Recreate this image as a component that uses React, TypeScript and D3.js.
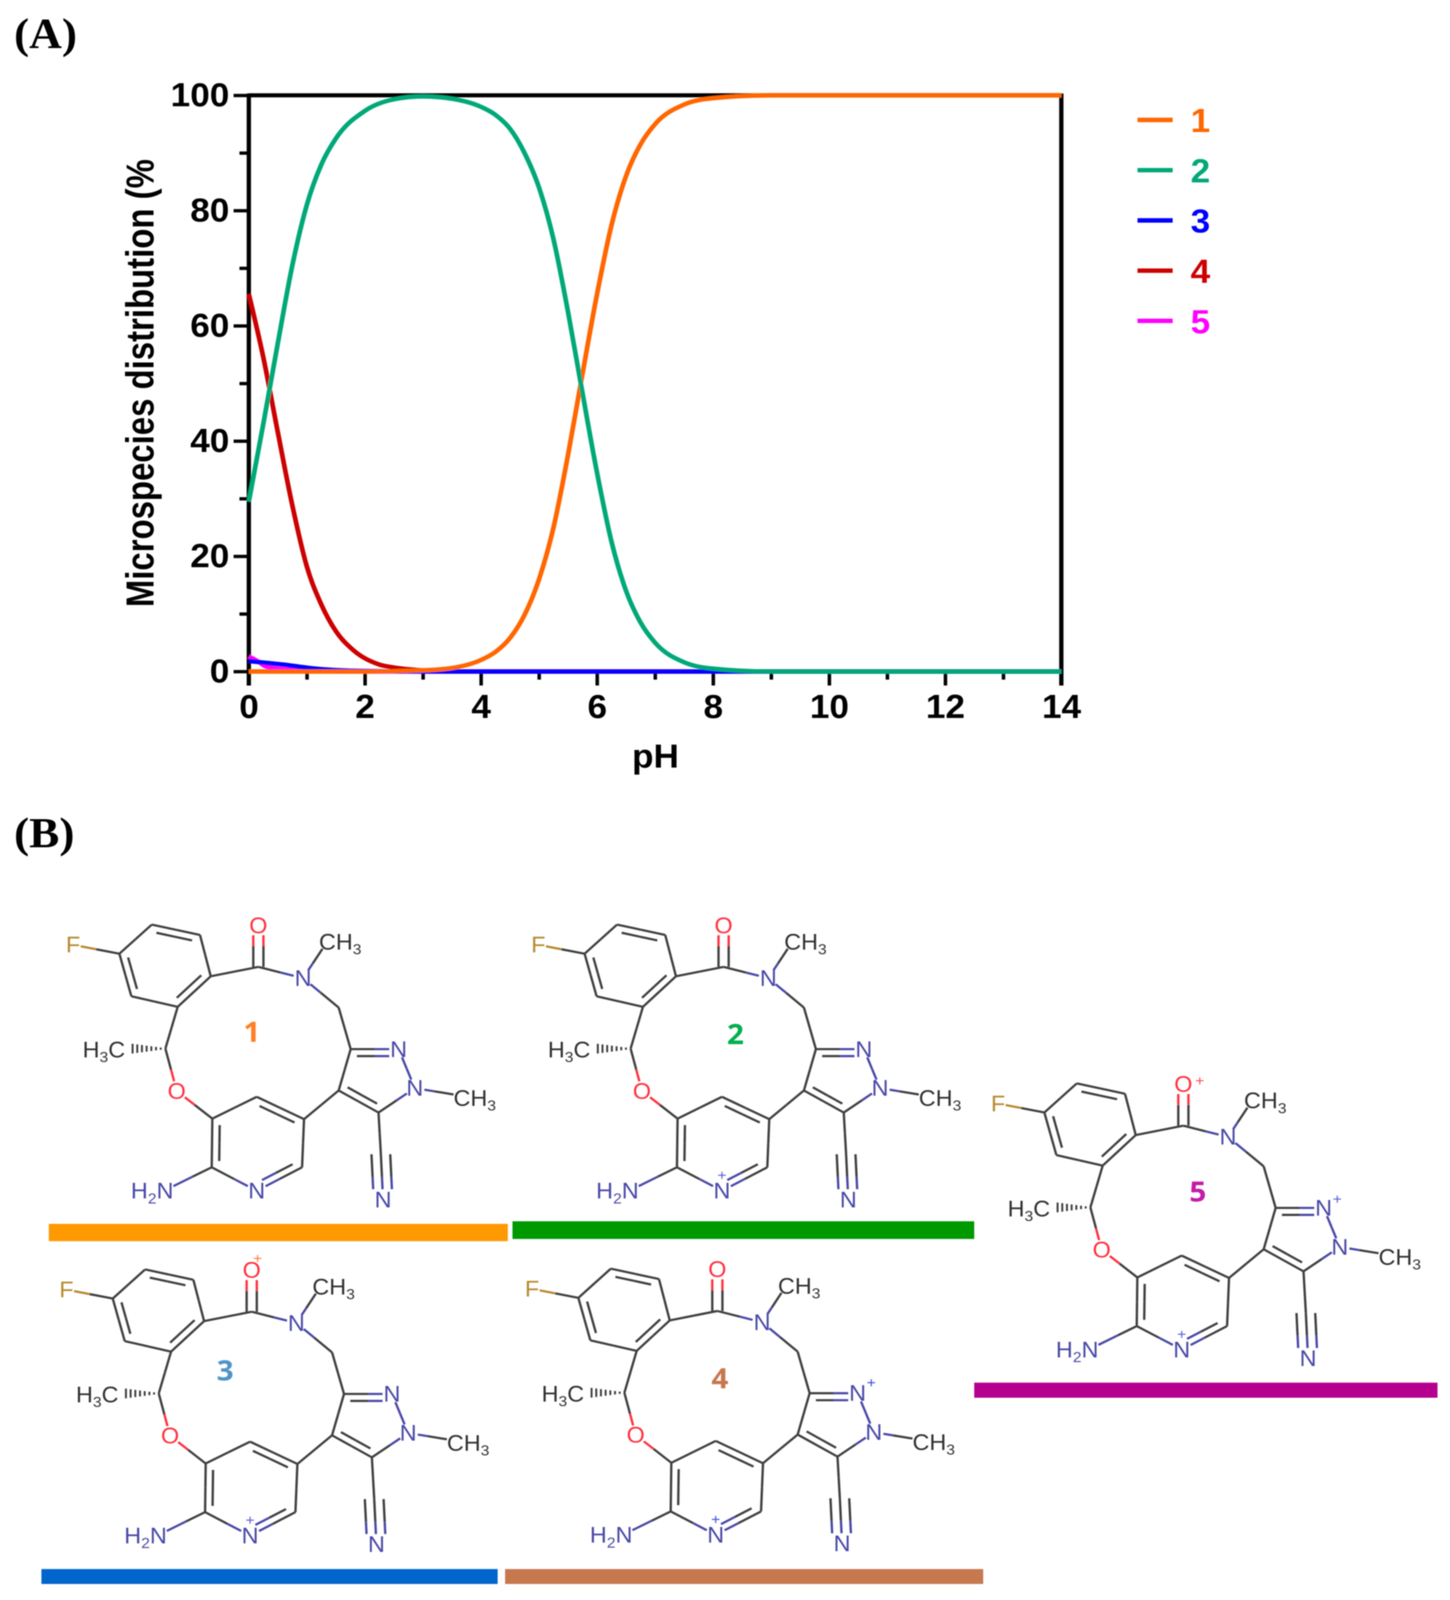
import React, { useEffect, useRef } from 'react';
import * as d3 from 'd3';

// species curves
const pH1 = [0, 1, 2, 3, 3.5, 4, 4.25, 4.5, 4.75, 5, 5.25, 5.5, 5.72, 6, 6.25, 6.5, 6.75, 7, 7.5, 8, 9, 14];
const species1 = [0, 0, 0, 0.2, 0.6, 2, 3.4, 5.8, 9.8, 16, 25, 37.6, 50, 65.5, 77.5, 86, 91.5, 95, 98.4, 99.5, 100, 100];
const pH2 = [0, 0.25, 0.5, 0.75, 1, 1.25, 1.5, 2, 2.5, 3, 3.5, 4, 4.25, 4.5, 4.75, 5, 5.25, 5.5, 5.72, 6, 6.25, 6.5, 6.75, 7, 7.5, 8, 9, 14];
const species2 = [29.5, 43, 57, 70.5, 81, 88, 92.5, 97.3, 99.3, 99.8, 99.4, 98, 96.6, 94.2, 90, 84, 75, 62.4, 50, 34.5, 22.5, 14, 8.5, 5, 1.6, 0.5, 0, 0];
const pH3 = [0, 0.3, 0.6, 0.9, 1.2, 1.6, 2, 3, 14];
const species3 = [1.8, 1.5, 1.2, 0.8, 0.45, 0.2, 0.1, 0, 0];
const pH4 = [0, 0.25, 0.5, 0.75, 1, 1.25, 1.5, 1.8, 2.25, 2.5, 3, 3.5, 14];
const species4 = [65.5, 54.5, 41.5, 28.8, 18.2, 11.6, 7, 3.7, 1.2, 0.7, 0.2, 0, 0];
const pH5 = [0, 0.15, 0.3, 0.6, 1, 2, 14];
const species5 = [2.6, 1.8, 0.85, 0.4, 0.15, 0, 0];

const legendNames = ['1', '2', '3', '4', '5'];
const lineColors = ['#ff6600', '#00a878', '#0000ff', '#cc0000', '#ff00ff'];
const drawOrder = [4, 3, 2, 0, 1];
const xMajor = [0, 2, 4, 6, 8, 10, 12, 14];
const xMinor = [1, 3, 5, 7, 9, 11, 13];
const yMajor = [0, 20, 40, 60, 80, 100];
const yMinor = [10, 30, 50, 70, 90];

const x = d3.scaleLinear().domain([0, 14]).range([637, 2717]);
const y = d3.scaleLinear().domain([0, 100]).range([1822.7, 258.7]);

// molecule skeleton, measured on structure 1
type Atom = { x: number; y: number; el?: string; gap?: number };
const atoms: Record<string, Atom> = {
  a1: { x: 205.6, y: 188.8 }, a2: { x: 288.6, y: 109.7 }, a3: { x: 412, y: 137.8 },
  a4: { x: 439.5, y: 250 }, a5: { x: 354.9, y: 332.9 }, a6: { x: 236.3, y: 304.2 },
  F: { x: 87, y: 164.5, el: 'F', gap: 20 },
  c7: { x: 561.4, y: 224.5 }, O1: { x: 561.4, y: 111.6, el: 'O', gap: 27 },
  N8: { x: 675.8, y: 255.1, el: 'N', gap: 25 }, me1: { x: 725.5, y: 175.4 },
  c9: { x: 767, y: 334.8 }, c10: { x: 797.7, y: 447.7 },
  N11: { x: 920.4, y: 447.7, el: 'N', gap: 24 }, N12: { x: 961.9, y: 553.6, el: 'N', gap: 25 },
  c13: { x: 869, y: 619.9 }, c14: { x: 767, y: 560 }, me2: { x: 1061, y: 570.8 },
  c15: { x: 875, y: 733 }, N16: { x: 880.6, y: 855.9, el: 'N', gap: 28 },
  p1: { x: 678.3, y: 637.8 }, p2: { x: 557.2, y: 577.2 }, p3: { x: 443.6, y: 636.5 },
  p4: { x: 442, y: 768.5 }, N17: { x: 557.2, y: 832.3, el: 'N', gap: 26 }, p6: { x: 673.3, y: 768.5 },
  O2: { x: 352.4, y: 561.2, el: 'O', gap: 27 }, c18: { x: 323.4, y: 446.4 },
  N19: { x: 344, y: 819.5, el: 'N', gap: 0 },
};
const ringCenters: Record<string, [number, number]> = {
  ph: [322, 220], py: [558, 700], pz: [875, 520], c10: [920, 600],
};
const singleBonds = [
  ['a2', 'a1'], ['a3', 'a4'], ['a5', 'a6'], ['a1', 'F'], ['a4', 'c7'], ['c7', 'N8'], ['N8', 'me1'],
  ['N8', 'c9'], ['c9', 'c10'], ['c10', 'c14'], ['N11', 'N12'], ['N12', 'c13'], ['N12', 'me2'],
  ['c14', 'p1'], ['c13', 'c15'], ['p1', 'p6'], ['p2', 'p3'], ['p4', 'N17'], ['p4', 'N19'],
  ['a5', 'c18'], ['c18', 'O2'], ['O2', 'p3'],
];
const doubleBonds = [
  ['a2', 'a3', 'ph'], ['a1', 'a6', 'ph'], ['a4', 'a5', 'ph'], ['c10', 'N11', 'c10'],
  ['c13', 'c14', 'pz'], ['p1', 'p2', 'py'], ['p3', 'p4', 'py'], ['N17', 'p6', 'py'],
];
const moleculeLabels = [
  { atom: 'F', parts: ['F'], anchor: 'middle', dx: 0, dy: 0 },
  { atom: 'O1', parts: ['O'], anchor: 'middle', dx: 0, dy: 0 },
  { atom: 'N8', parts: ['N'], anchor: 'middle', dx: 0, dy: 0 },
  { atom: 'me1', parts: ['CH', '3'], anchor: 'start', dx: -9, dy: -19 },
  { atom: 'N11', parts: ['N'], anchor: 'middle', dx: 0, dy: 0 },
  { atom: 'N12', parts: ['N'], anchor: 'middle', dx: 0, dy: 0 },
  { atom: 'me2', parts: ['CH', '3'], anchor: 'start', dx: 0, dy: 10 },
  { atom: 'N16', parts: ['N'], anchor: 'middle', dx: 0, dy: 0 },
  { atom: 'N17', parts: ['N'], anchor: 'middle', dx: 0, dy: 0 },
  { atom: 'O2', parts: ['O'], anchor: 'middle', dx: 0, dy: 0 },
  { atom: 'N19', parts: ['H', '2', 'N'], anchor: 'end', dx: 0, dy: 13 },
  { atom: 'c18', parts: ['H', '3', 'C'], anchor: 'end', dx: -103, dy: 3 },
];
const elementColors: Record<string, string> = { N: '#4a4aa8', O: '#ff3040', F: '#b88a30' };
const bondDark = '#404040';

// panel B: one entry per structure
const moleculeIds = ['1', '2', '3', '4', '5'];
const moleculeOffsets: [number, number][] = [[100, 2400], [1291, 2400], [83, 3336], [1275, 3334], [2468, 2831]];
const moleculeNumbers: [number, number][] = [[644.8, 2800.5], [1882.7, 2807], [576.5, 3720.5], [1843, 3741], [3066.5, 3235]];
const numberColors = ['#ff7f27', '#00b050', '#4f94c8', '#c8774d', '#c41aa8'];
const barSpans: [number, number, number, number][] = [
  [125, 1300, 3322, 3369], [1312, 2494, 3315, 3363], [106, 1274, 4259, 4300], [1293, 2517, 4259, 4300], [2494, 3680, 3753, 3794],
];
const barColors = ['#ff9900', '#009900', '#0066cc', '#c87850', '#b5008f'];
const charges: { atom: string; dx: number; dy: number; color: string }[][] = [
  [],
  [{ atom: 'N17', dx: 0, dy: -42, color: '#5a64d8' }],
  [{ atom: 'O1', dx: 15, dy: -32, color: '#ff8040' }, { atom: 'N17', dx: 0, dy: -42, color: '#5a64d8' }],
  [{ atom: 'N11', dx: 35, dy: -28, color: '#3a50e0' }, { atom: 'N17', dx: 0, dy: -42, color: '#3a50e0' }],
  [{ atom: 'O1', dx: 42, dy: -9, color: '#ff5060' }, { atom: 'N11', dx: 35, dy: -24, color: '#5a64d8' }, { atom: 'N17', dx: 0, dy: -42, color: '#5a64d8' }],
];

const lineOf = d3.line<[number, number]>().x((d) => d[0]).y((d) => d[1]);

function trimmed(a: Atom, b: Atom) {
  const len = Math.hypot(b.x - a.x, b.y - a.y);
  const ux = (b.x - a.x) / len;
  const uy = (b.y - a.y) / len;
  const ga = a.gap || 0;
  const gb = b.gap || 0;
  return { ux, uy, len, x1: a.x + ux * ga, y1: a.y + uy * ga, x2: b.x - ux * gb, y2: b.y - uy * gb };
}

// a bond drawn in two halves, each in the colour of its atom
function halves(a: Atom, b: Atom, ox: number, oy: number, inset: number, key: string, width: number) {
  const t = trimmed(a, b);
  const sa = a.gap ? 0 : inset * t.len;
  const sb = b.gap ? 0 : inset * t.len;
  const p1: [number, number] = [t.x1 + t.ux * sa + ox, t.y1 + t.uy * sa + oy];
  const p2: [number, number] = [t.x2 - t.ux * sb + ox, t.y2 - t.uy * sb + oy];
  const m: [number, number] = [(a.x + b.x) / 2 + ox, (a.y + b.y) / 2 + oy];
  const ca = a.el ? elementColors[a.el] : bondDark;
  const cb = b.el ? elementColors[b.el] : bondDark;
  return (
    <g key={key} fill="none" strokeWidth={width}>
      <path d={lineOf([p1, m]) || ''} stroke={ca} />
      <path d={lineOf([m, p2]) || ''} stroke={cb} />
    </g>
  );
}

const Molecule: React.FC<{ index: number }> = ({ index }) => {
  const [ox, oy] = moleculeOffsets[index];
  const px = d3.scaleLinear().domain([0, 1300]).range([ox, ox + 1300]);
  const py = d3.scaleLinear().domain([0, 1000]).range([oy, oy + 1000]);
  const placed: Record<string, Atom> = {};
  Object.keys(atoms).forEach((k) => {
    placed[k] = { ...atoms[k], x: px(atoms[k].x), y: py(atoms[k].y) };
  });
  const width = 6;
  const hashFrom = placed.c18;
  return (
    <g>
      {singleBonds.map(([a, b]) => halves(placed[a], placed[b], 0, 0, 0, a + b, width))}
      {doubleBonds.map(([a, b, c]) => {
        const A = placed[a];
        const B = placed[b];
        const center = ringCenters[c];
        const t = trimmed(A, B);
        let nx = -t.uy;
        let ny = t.ux;
        if (nx * (px(center[0]) - A.x) + ny * (py(center[1]) - A.y) < 0) {
          nx = -nx;
          ny = -ny;
        }
        return (
          <g key={a + b}>
            {halves(A, B, 0, 0, 0, 'o', width)}
            {halves(A, B, nx * 19, ny * 19, 0.13, 'i', width)}
          </g>
        );
      })}
      {[-13, 13].map((d) => halves(placed.c7, placed.O1, d, 0, 0, 'co' + d, width))}
      {[-24, 0, 24].map((d) => halves(placed.c15, placed.N16, d, 0, 0, 'cn' + d, width))}
      {d3.range(7).map((i) => {
        const hx = hashFrom.x - 12 - i * 12;
        const half = 3 + i * 1.7;
        return <line key={i} x1={hx} x2={hx} y1={hashFrom.y - half} y2={hashFrom.y + half} stroke={bondDark} strokeWidth={5} />;
      })}
      <g fontFamily="'Liberation Sans', Arial, sans-serif" fontSize={60}>
        {moleculeLabels.map((l) => {
          const a = placed[l.atom];
          const el = atoms[l.atom].el;
          const isCarbon = l.parts.includes('CH') || l.parts[2] === 'C';
          return (
            <text
              key={l.atom + l.parts.join('')}
              x={a.x + l.dx}
              y={a.y + l.dy + 21}
              textAnchor={l.anchor}
              fill={isCarbon ? '#333333' : elementColors[el || 'N']}
            >
              {l.parts.map((p, i) =>
                /\d/.test(p) ? (
                  <tspan key={i} fontSize={40} dy={13}>{p}</tspan>
                ) : (
                  <tspan key={i} dy={i > 0 ? -13 : 0}>{p}</tspan>
                ),
              )}
            </text>
          );
        })}
      </g>
      {charges[index].map((c) => (
        <text
          key={c.atom}
          x={placed[c.atom].x + c.dx}
          y={placed[c.atom].y + c.dy + 13}
          textAnchor="middle"
          fontFamily="'Liberation Sans', Arial, sans-serif"
          fontSize={40}
          fill={c.color}
        >
          +
        </text>
      ))}
      <text
        x={moleculeNumbers[index][0]}
        y={moleculeNumbers[index][1] + 27}
        textAnchor="middle"
        fontFamily="'Open Sans', sans-serif"
        fontWeight={700}
        fontSize={76}
        fill={numberColors[index]}
      >
        {moleculeIds[index]}
      </text>
    </g>
  );
};

export default function App() {
  const xAxisRef = useRef<SVGGElement | null>(null);
  const yAxisRef = useRef<SVGGElement | null>(null);

  useEffect(() => {
    const gx = d3.select(xAxisRef.current);
    const gy = d3.select(yAxisRef.current);
    gx.selectAll('*').remove();
    gy.selectAll('*').remove();
    const bottom = d3.axisBottom(x).tickValues(xMajor).tickSize(38).tickSizeOuter(0).tickPadding(24).tickFormat(d3.format('d') as any);
    const bottomMinor = d3.axisBottom(x).tickValues(xMinor).tickSize(22).tickSizeOuter(0).tickFormat(() => '');
    const left = d3.axisLeft(y).tickValues(yMajor).tickSize(39).tickSizeOuter(0).tickPadding(11).tickFormat(d3.format('d') as any);
    const leftMinor = d3.axisLeft(y).tickValues(yMinor).tickSize(24).tickSizeOuter(0).tickFormat(() => '');
    gx.append('g').call(bottom as any);
    gx.append('g').call(bottomMinor as any);
    gy.append('g').call(left as any);
    gy.append('g').call(leftMinor as any);
    [gx, gy].forEach((g) => {
      g.selectAll('.domain').remove();
      g.selectAll('line').attr('stroke', '#000').attr('stroke-width', 9);
      g.selectAll('text')
        .attr('fill', '#000')
        .attr('font-family', "'Liberation Sans', Arial, sans-serif")
        .attr('font-weight', 700)
        .attr('font-size', 90);
    });
    gx.selectAll('text').attr('dy', '0.71em');
  }, []);

  const series = [
    { xs: pH1, ys: species1 },
    { xs: pH2, ys: species2 },
    { xs: pH3, ys: species3 },
    { xs: pH4, ys: species4 },
    { xs: pH5, ys: species5 },
  ];
  const curve = d3
    .line<[number, number]>()
    .x((d) => x(d[0]))
    .y((d) => y(d[1]))
    .curve(d3.curveMonotoneX);
  const legendY = d3.scalePoint<string>().domain(legendNames).range([325.5, 871]);

  // the browser caps the viewport below 4343, so fit the full layout to what is there
  const shownHeight = Math.min(4343, window.innerHeight);

  return (
    <svg
      width={3712}
      height={shownHeight}
      viewBox="0 0 3712 4343"
      preserveAspectRatio="none"
      style={{ position: 'absolute', left: 0, top: 0, background: '#fff' }}
    >
      <defs>
        <filter id="soft" filterUnits="userSpaceOnUse" x={0} y={0} width={3712} height={4343}>
          <feGaussianBlur stdDeviation={1.5} />
        </filter>
      </defs>
      <g filter="url(#soft)">
        <g fontFamily="'Liberation Serif', 'Times New Roman', serif" fontWeight={700} fontSize={116}>
          <text x={36} y={130}>(A)</text>
          <text x={36} y={2300}>(B)</text>
        </g>

        <g stroke="#000" strokeWidth={11} fill="none">
          <line x1={x(0)} x2={x(14)} y1={y(100)} y2={y(100)} />
          <line x1={x(14)} x2={x(14)} y1={y(100) - 5} y2={y(0) + 38} />
          <line x1={x(0)} x2={x(0)} y1={y(100) - 5} y2={y(0) + 38} />
          <line x1={x(0)} x2={x(14)} y1={y(0)} y2={y(0)} />
        </g>
        <g ref={xAxisRef} transform={`translate(0,${y(0)})`} />
        <g ref={yAxisRef} transform={`translate(${x(0)},0)`} />

        {drawOrder.map((i) => (
          <path
            key={i}
            d={curve(series[i].xs.map((v, j) => [v, series[i].ys[j]] as [number, number])) || ''}
            fill="none"
            stroke={lineColors[i]}
            strokeWidth={12}
          />
        ))}

        <text
          transform="translate(393,1648) rotate(-90) scale(1,1.12)"
          fontFamily="'Liberation Sans', Arial, sans-serif"
          fontWeight={700}
          fontSize={89}
          textLength={1216}
          lengthAdjust="spacingAndGlyphs"
        >
          Microspecies distribution (%
        </text>
        <text x={1678} y={2084} textAnchor="middle" fontFamily="'Liberation Sans', Arial, sans-serif" fontWeight={700} fontSize={90}>
          pH
        </text>

        {legendNames.map((name, i) => (
          <g key={name}>
            <line x1={2912} x2={3002} y1={legendY(name)} y2={legendY(name)} stroke={lineColors[i]} strokeWidth={12} />
            <text
              x={3073}
              y={(legendY(name) as number) + 33}
              textAnchor="middle"
              fill={lineColors[i]}
              fontFamily="'Liberation Sans', Arial, sans-serif"
              fontWeight={700}
              fontSize={90}
            >
              {name}
            </text>
          </g>
        ))}

        {moleculeIds.map((id, i) => (
          <Molecule key={id} index={i} />
        ))}
        {barSpans.map(([x1, x2, y1, y2], i) => (
          <rect key={i} x={x1} y={y1} width={x2 - x1} height={y2 - y1} fill={barColors[i]} />
        ))}
      </g>
    </svg>
  );
}
